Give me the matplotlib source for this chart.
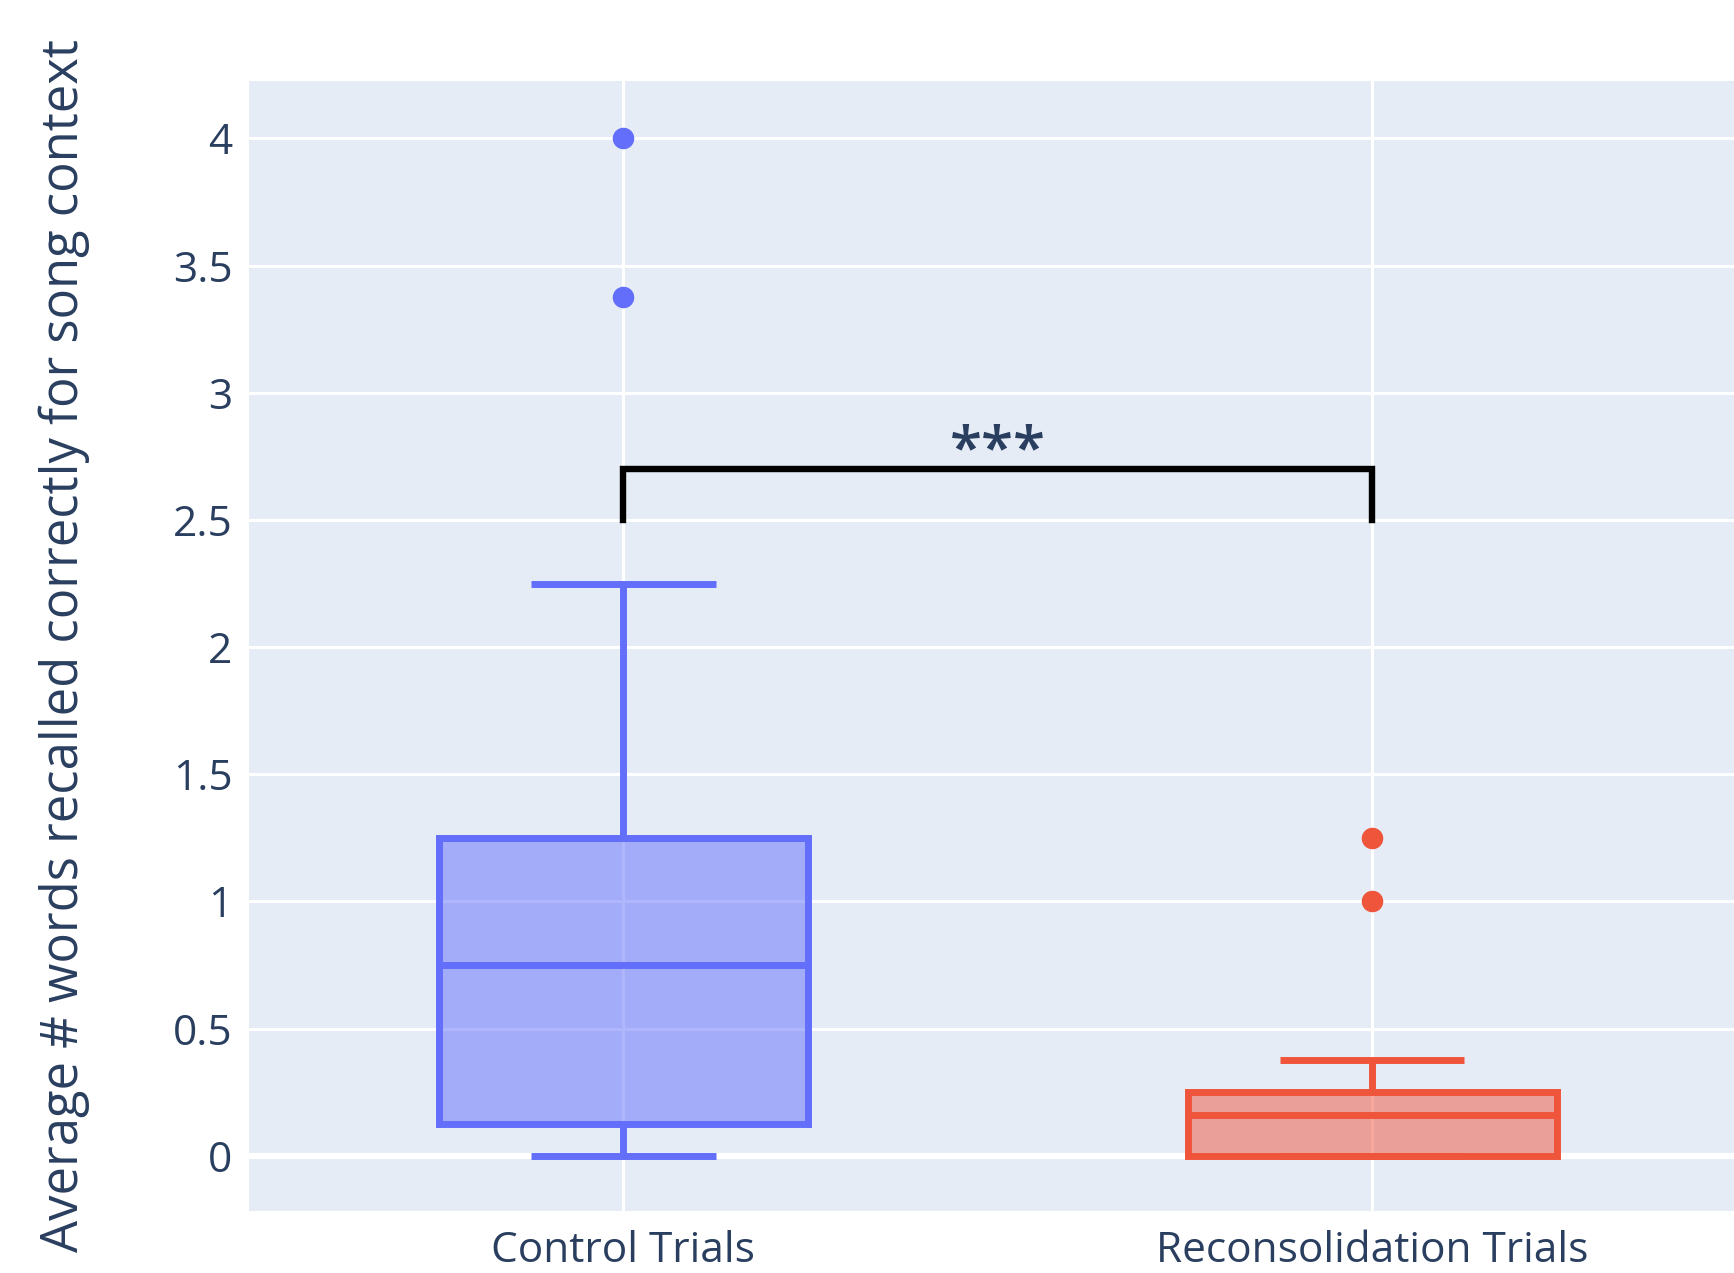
import numpy as np
import matplotlib.pyplot as plt
from matplotlib.colors import to_rgba

# data
groups = ["Control Trials", "Reconsolidation Trials"]
colors = ["#636EFA", "#EF553B"]
q1 = [0.125, 0.0]
med = [0.75, 0.16]
q3 = [1.25, 0.25]
whislo = [0.0, 0.0]
whishi = [2.25, 0.375]
fliers = [[3.375, 4.0], [1.0, 1.25]]
sig_label = "***"
bracket_lo = 2.5
bracket_hi = 2.7

plt.rcParams['font.family'] = ['Open Sans', 'DejaVu Sans']
txt = "#2a3f5f"

fig = plt.figure(figsize=(17.34, 12.73), dpi=100)
ax = fig.add_axes([0.1436, 0.0487, 1 - 0.1436, 0.8877])
ax.set_facecolor("#E5ECF6")
for s in ax.spines.values():
    s.set_visible(False)

ax.set_xlim(-0.5, 1.483)
ax.set_ylim(-0.217, 4.226)
ax.set_yticks([0, 0.5, 1, 1.5, 2, 2.5, 3, 3.5, 4])
ax.set_yticklabels(["0", "0.5", "1", "1.5", "2", "2.5", "3", "3.5", "4"])
ax.set_xticks(range(len(groups)))
ax.set_xticklabels(groups)
ax.tick_params(length=0, labelsize=30.5, colors=txt)
ax.tick_params(axis='y', pad=12)
ax.tick_params(axis='x', pad=14)
ax.grid(True, color="white", linewidth=2.2, zorder=0)
ax.set_axisbelow(True)
ax.axhline(0, color="white", linewidth=4.5, zorder=0.5)

stats = []
for i in range(len(groups)):
    stats.append(dict(q1=q1[i], med=med[i], q3=q3[i], whislo=whislo[i],
                      whishi=whishi[i], fliers=fliers[i]))

for i, st in enumerate(stats):
    c = colors[i]
    ax.bxp([st], positions=[i], widths=0.492, patch_artist=True,
           boxprops=dict(facecolor=to_rgba(c, 0.5), edgecolor=c, linewidth=5),
           medianprops=dict(color=c, linewidth=5, solid_capstyle='butt'),
           whiskerprops=dict(color=c, linewidth=5, solid_capstyle='butt'),
           capprops=dict(color=c, linewidth=5, solid_capstyle='butt'),
           capwidths=0.246,
           flierprops=dict(marker='o', markerfacecolor=c, markeredgecolor=c,
                           markersize=14.5),
           manage_ticks=False, zorder=3)

# significance bracket
ax.plot([0, 0, 1, 1], [bracket_lo, bracket_hi, bracket_hi, bracket_lo],
        color="black", linewidth=4.6, zorder=4, solid_joinstyle='miter')
ax.text(0.5, bracket_hi - 0.05, sig_label, ha='center', va='bottom',
        fontsize=42, fontweight='semibold', color=txt, zorder=5)

ax.set_ylabel("Average # words recalled correctly for song context",
              fontsize=36.5, color=txt)
ax.yaxis.set_label_coords(-0.107, 0.5)

fig.savefig("out.png", dpi=100)
